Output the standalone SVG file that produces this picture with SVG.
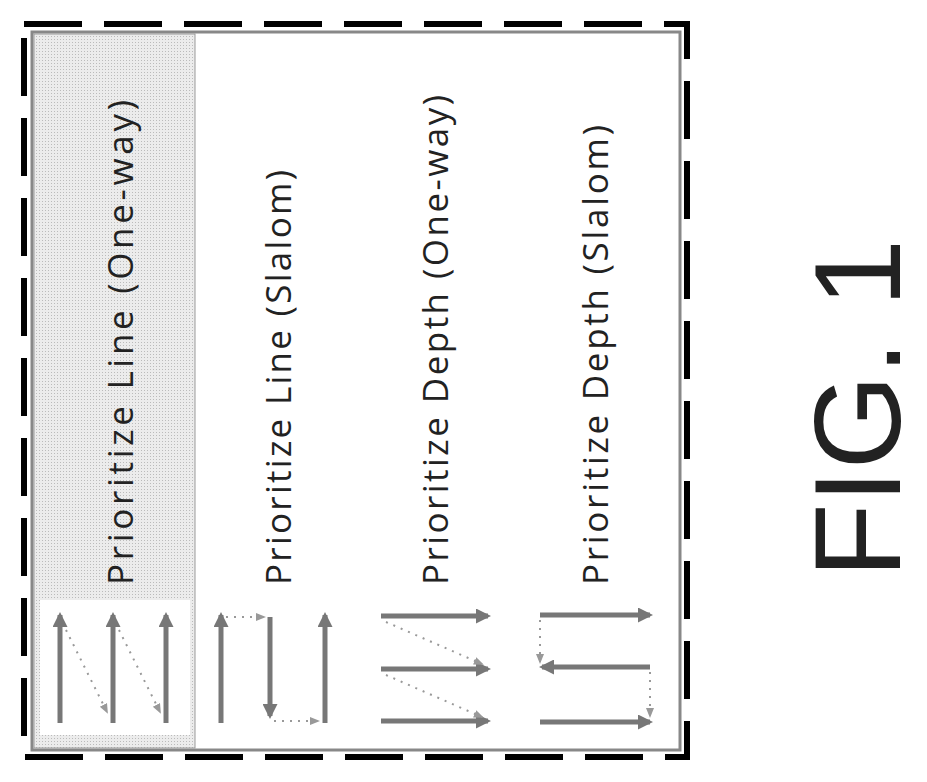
<svg xmlns="http://www.w3.org/2000/svg" width="927" height="782" viewBox="0 0 927 782">
<defs>
<style>
.lbl{font-family:"Open Sans","DejaVu Sans",sans-serif;font-size:35px;fill:#222}
.arr{stroke:#777;stroke-width:5;fill:none;marker-end:url(#ah)}
.dot{stroke:#999;stroke-width:2;stroke-dasharray:2 6;fill:none;marker-end:url(#sh)}
</style>
<marker id="ah" viewBox="0 0 10 10" refX="8" refY="5" markerWidth="3" markerHeight="3" orient="auto"><path d="M0,0L10,5L0,10z" fill="#777"/></marker>
<marker id="sh" viewBox="0 0 10 10" refX="8" refY="5" markerWidth="5" markerHeight="5" orient="auto"><path d="M0,1L10,5L0,9z" fill="#999"/></marker>
<pattern id="sh1" width="3" height="3" patternUnits="userSpaceOnUse"><rect width="3" height="3" fill="#ececec"/><rect width="1" height="1" fill="#bbb"/></pattern>
</defs>
<rect width="927" height="782" fill="#fff"/>
<g id="frame">
<rect x="24" y="24" width="663" height="733" fill="none" stroke="#000" stroke-width="6" stroke-dasharray="58 22"/>
<rect x="32" y="32" width="648" height="718" fill="#fff" stroke="#888" stroke-width="3"/>
<rect x="34" y="34" width="161" height="714" fill="url(#sh1)" stroke="#999" stroke-width="1"/>
<rect x="40" y="600" width="150" height="135" fill="#fff"/>
</g>
<g id="row1"><text class="lbl" transform="translate(133,585) rotate(-90)" textLength="485" lengthAdjust="spacing">Prioritize Line (One-way)</text></g>
<g id="row2"><text class="lbl" transform="translate(291,585) rotate(-90)" textLength="415" lengthAdjust="spacing">Prioritize Line (Slalom)</text></g>
<g id="row3"><text class="lbl" transform="translate(448,585) rotate(-90)" textLength="490" lengthAdjust="spacing">Prioritize Depth (One-way)</text></g>
<g id="row4"><text class="lbl" transform="translate(608,585) rotate(-90)" textLength="460" lengthAdjust="spacing">Prioritize Depth (Slalom)</text></g>
<g id="fig"><text transform="translate(900,578) rotate(-90)" font-family="Liberation Sans,Arial,sans-serif" font-size="122" fill="#222">FIG. 1</text></g>
<g id="connectors">
<path class="arr" d="M60,723V615"/><path class="arr" d="M113,723V615"/><path class="arr" d="M166,723V615"/>
<path class="dot" d="M66,630L107,712"/><path class="dot" d="M119,630L160,712"/>
<path class="arr" d="M221,723V615"/><path class="dot" d="M226,617H264"/><path class="arr" d="M270,617V716"/><path class="dot" d="M274,721H318"/><path class="arr" d="M325,723V615"/>
<path class="arr" d="M381,616H488"/><path class="arr" d="M381,669H488"/><path class="arr" d="M381,721H488"/>
<path class="dot" d="M386,622L482,664"/><path class="dot" d="M386,675L482,717"/>
<path class="arr" d="M540,615H650"/><path class="dot" d="M540,620V662"/><path class="arr" d="M650,667H542"/><path class="dot" d="M650,672V716"/><path class="arr" d="M540,722H650"/>
</g>
</svg>
